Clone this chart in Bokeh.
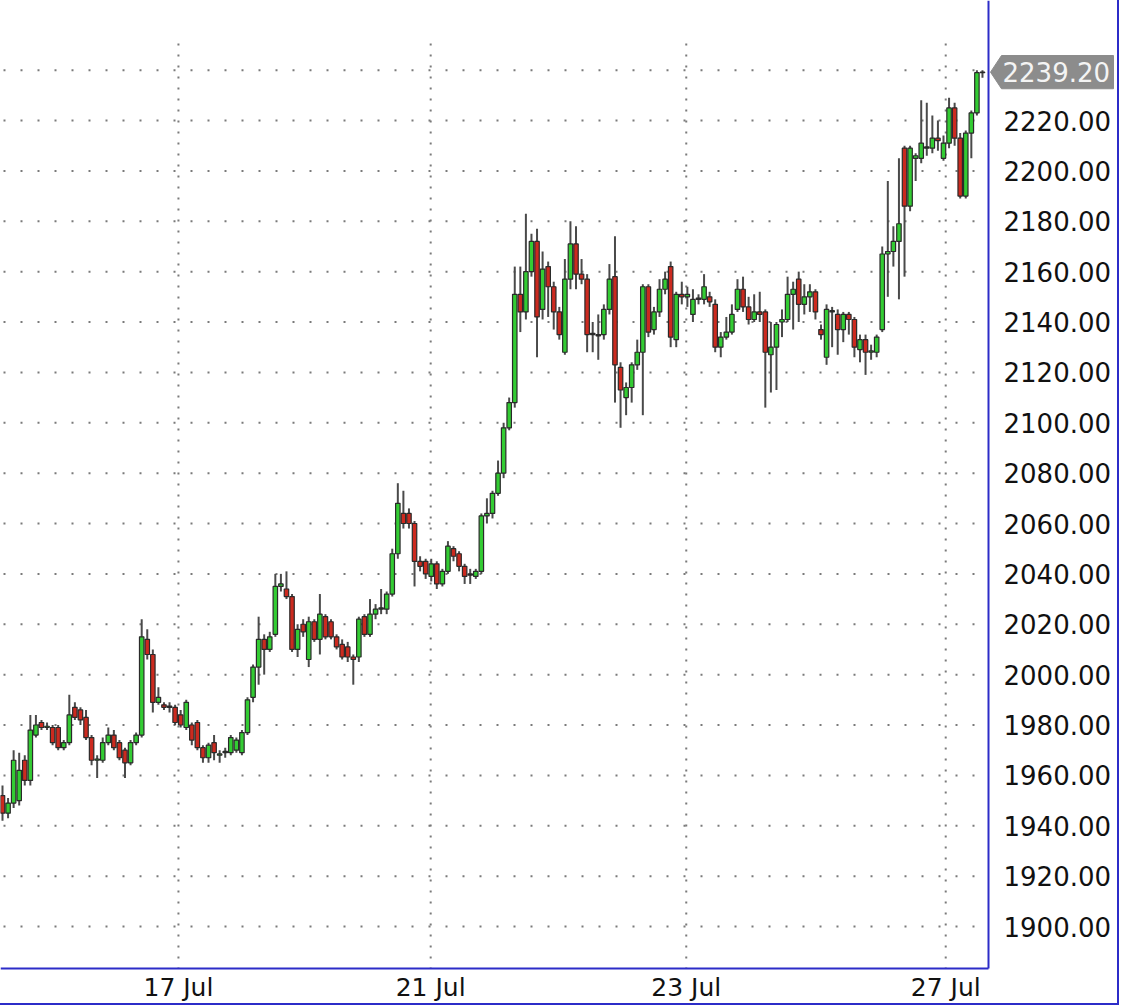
from bokeh.plotting import figure
from bokeh.models import ColumnDataSource, Range1d
from bokeh.core.properties import value
from bokeh.embed import file_html
from bokeh.resources import INLINE

# ---------------- data ----------------
opens = [1952,1945,1949,1950,1966,1958,1976,1981,1979,1979,1979,1971,1973,1987,1986,1983,1975,1966,1966,1973,
         1976,1973,1970,1965,1973,1976,2014,2008,1989,1988,1987,1987,1984,1979,1980,1981,1971,1967,1973,1968,
         1969,1969,1970,1969,1977,1991,2003,2014,2010,2016,2035,2034,2031,2010,2020,2006,2021,2014,2023,2021,
         2015,2012,2011,2007,2007,2023,2016,2024,2026,2026,2032,2048,2064,2064,2060,2045,2045,2039,2044,2036,
         2041,2050,2048,2043,2040,2039,2041,2063,2064,2072,2080,2098,2108,2151,2144,2160,2172,2145,2162,2154,
         2144,2128,2157,2171,2159,2157,2135,2135,2135,2145,2158,2122,2110,2114,2123,2128,2154,2137,2144,2153,
         2162,2133,2151,2150,2143,2149,2149,2150,2147,2130,2134,2136,2145,2153,2146,2141,2144,2144,2127,2130,
         2140,2141,2151,2157,2147,2150,2152,2137,2126,2144,2143,2137,2143,2141,2129,2133,2128,2128,2137,2167,
         2168,2172,2209,2186,2205,2205,2209,2209,2213,2205,2211,2225,2213,2190,2215,2223,2239]
highs = [1956,1951,1970,1969,1968,1984,1984,1982,1981,1980,1980,1974,1992,1989,1987,1986,1976,1968,1975,1979,
         1978,1974,1971,1974,1977,2022,2018,2010,1995,1989,1989,1988,1986,1990,1981,1982,1972,1973,1976,1970,
         1971,1976,1975,1978,1991,2004,2023,2016,2017,2040,2040,2041,2032,2020,2022,2023,2022,2032,2024,2022,
         2016,2014,2013,2008,2023,2024,2030,2028,2034,2033,2050,2076,2073,2066,2061,2047,2046,2046,2045,2042,
         2053,2051,2049,2044,2042,2042,2064,2070,2073,2085,2100,2110,2162,2162,2183,2175,2177,2168,2164,2156,
         2146,2165,2180,2178,2165,2159,2140,2143,2147,2163,2174,2124,2116,2124,2133,2155,2155,2146,2157,2160,
         2164,2152,2156,2154,2153,2151,2159,2152,2149,2136,2142,2147,2157,2158,2150,2151,2152,2145,2140,2140,
         2145,2158,2156,2160,2155,2155,2153,2139,2147,2146,2145,2144,2144,2142,2135,2135,2131,2135,2170,2196,
         2178,2205,2210,2210,2207,2228,2227,2222,2220,2214,2229,2227,2215,2216,2224,2240,2240]
lows = [1942,1943,1947,1948,1956,1956,1975,1978,1978,1972,1970,1970,1972,1982,1980,1974,1964,1959,1965,1972,
        1970,1966,1959,1964,1972,1975,2006,1985,1988,1986,1985,1980,1979,1978,1972,1970,1965,1965,1966,1965,
        1967,1968,1969,1968,1976,1989,1996,2000,2009,2015,2033,2030,2009,2007,2015,2003,2013,2008,2014,2014,
        2010,2006,2005,1996,2005,2015,2015,2022,2024,2024,2031,2046,2058,2058,2035,2041,2038,2037,2034,2035,
        2040,2045,2041,2036,2036,2038,2040,2060,2062,2071,2078,2097,2106,2136,2141,2158,2126,2141,2142,2137,
        2133,2127,2153,2153,2155,2128,2128,2125,2133,2143,2108,2098,2103,2108,2121,2103,2134,2135,2142,2151,
        2130,2130,2147,2146,2140,2147,2147,2146,2128,2126,2133,2135,2144,2144,2139,2140,2140,2106,2112,2113,
        2134,2140,2137,2140,2143,2144,2141,2133,2123,2130,2127,2132,2135,2126,2124,2119,2125,2126,2136,2150,
        2162,2149,2158,2184,2196,2203,2206,2207,2208,2204,2209,2210,2189,2189,2205,2222,2237]
closes = [1945,1949,1966,1962,1958,1978,1980,1979,1979.5,1973,1971,1973,1984,1983,1982,1975,1966,1966.5,1973,1976,
          1971,1967,1965,1973,1976,2015,2008,1989,1991,1987,1987.5,1981,1980,1989,1974,1971,1967,1972,1969,1968.5,
          1969.5,1975,1974,1977,1990,2003,2014,2010,2015,2035,2036,2031,2010,2018,2017,2021,2014,2024,2015,2015,
          2011,2007,2007,2006,2022,2016,2024,2026,2026.5,2032,2048,2068,2060,2060,2045,2043,2040,2044,2036,2041,
          2051,2047,2043,2039,2039.5,2041,2063,2064,2072,2080,2098,2108,2151,2144,2160,2172,2142,2161,2154,2144,
          2135,2157,2171,2159,2157,2135,2135.5,2134.5,2145,2157,2123,2113,2114,2123,2128,2154,2136,2144,2153,2157,
          2134,2151,2150,2151,2149,2149.5,2154,2148,2130,2134,2136,2143,2153,2146,2141,2144,2143,2128,2130,2139,
          2141,2151,2153,2147,2150,2152,2144,2135,2145,2144.5,2137,2143,2141,2130,2133,2128,2128.5,2134,2167,2168,
          2172,2179,2186,2209,2206,2211,2209.5,2213,2212,2211,2225,2213,2190,2215,2223,2239,2239.2]

tick_bars = [31.6, 76.9, 122.8, 169.4]
tick_labels = ["17 Jul", "21 Jul", "23 Jul", "27 Jul"]
y_ticks = list(range(1900, 2241, 20))
last_price = 2239.20

# ---------------- styling / layout ----------------
FONT = "DejaVu Sans"
BLUE = "#2c2cc8"
GREEN = "#33cc33"
RED = "#cc2a1f"
GRID = "#7a7a7a"
TAG = "#8c8c8c"
pitch = 5.568          # px per bar
ppu = 2.51875          # px per price unit
W, H = 1119, 1005


def bar_at(px):        # screen x -> bar index
    return (px - 2) / pitch


def price_at(py):      # screen y -> price
    return 2220 + (120 - py) / ppu


y_lo, y_hi = price_at(H), price_at(0)
x_lo, x_hi = bar_at(0), bar_at(W)
x_plot_end = bar_at(988)
y_plot_end = price_at(968)

n = len(opens)
src = ColumnDataSource(dict(
    x=list(range(n)), open=opens, close=closes, high=highs, low=lows,
    top=[max(o, c) for o, c in zip(opens, closes)],
    bottom=[min(o, c) for o, c in zip(opens, closes)],
    color=[GREEN if c >= o else RED for o, c in zip(opens, closes)],
))

p = figure(width=W, height=H, output_backend="svg", toolbar_location=None,
           x_range=Range1d(x_lo, x_hi), y_range=Range1d(y_lo, y_hi),
           y_axis_location=None, x_axis_location=None,
           min_border_left=0, min_border_top=0,
           min_border_right=0, min_border_bottom=0)
p.styles = {"border-right": f"2px solid {BLUE}", "border-bottom": f"2px solid {BLUE}"}
p.background_fill_color = "white"
p.border_fill_color = "white"
p.outline_line_color = None
p.xgrid.visible = False
p.ygrid.visible = False

# horizontal dotted grid (stops at the price scale)
p.segment(x0=[x_lo] * len(y_ticks), x1=[x_plot_end] * len(y_ticks),
          y0=y_ticks, y1=y_ticks, line_color=GRID, line_width=2,
          line_dash="2 15", line_dash_offset=14)

# vertical dotted grid lines (day separators)
p.segment(x0=tick_bars, x1=tick_bars, y0=[price_at(43)] * len(tick_bars),
          y1=[y_plot_end] * len(tick_bars), line_color=GRID, line_width=2,
          line_dash="2 9")

# candles
p.segment(x0="x", y0="low", x1="x", y1="high", source=src,
          line_color="#4a4a4a", line_width=2)
p.vbar(x="x", width=0.8, top="top", bottom="bottom", source=src,
       fill_color="color", line_color="#2a2a2a", line_width=1.2)

# plot frame edges (right price-scale line and bottom line)
p.segment(x0=[x_plot_end, x_lo], x1=[x_plot_end, x_plot_end],
          y0=[y_hi, y_plot_end], y1=[y_plot_end, y_plot_end],
          line_color=BLUE, line_width=2)

# price scale labels
scale_ticks = [t for t in y_ticks if abs(t - last_price) > 5]
p.text(x=[bar_at(1003)] * len(scale_ticks), y=scale_ticks,
       text=[f"{t:.2f}" for t in scale_ticks],
       text_font=value(FONT), text_font_size="26px", text_color="#111111",
       text_baseline="middle", text_align="left")

# date labels under the day separators
p.text(x=tick_bars, y=[price_at(987)] * len(tick_bars), text=tick_labels,
       text_font=value(FONT), text_font_size="25px", text_color="#111111",
       text_baseline="middle", text_align="center")

# current price tag
half = 6.6
p.patch(x=[bar_at(990), bar_at(1001), bar_at(1113), bar_at(1113), bar_at(1001)],
        y=[last_price, last_price + half, last_price + half,
           last_price - half, last_price - half],
        fill_color=TAG, line_color=TAG)
p.text(x=[bar_at(1002)], y=[last_price], text=[f"{last_price:.2f}"],
       text_font=value(FONT), text_font_size="26px", text_color="#f4f4f4",
       text_baseline="middle", text_align="left")

open("out.html", "w").write(file_html(p, INLINE))
